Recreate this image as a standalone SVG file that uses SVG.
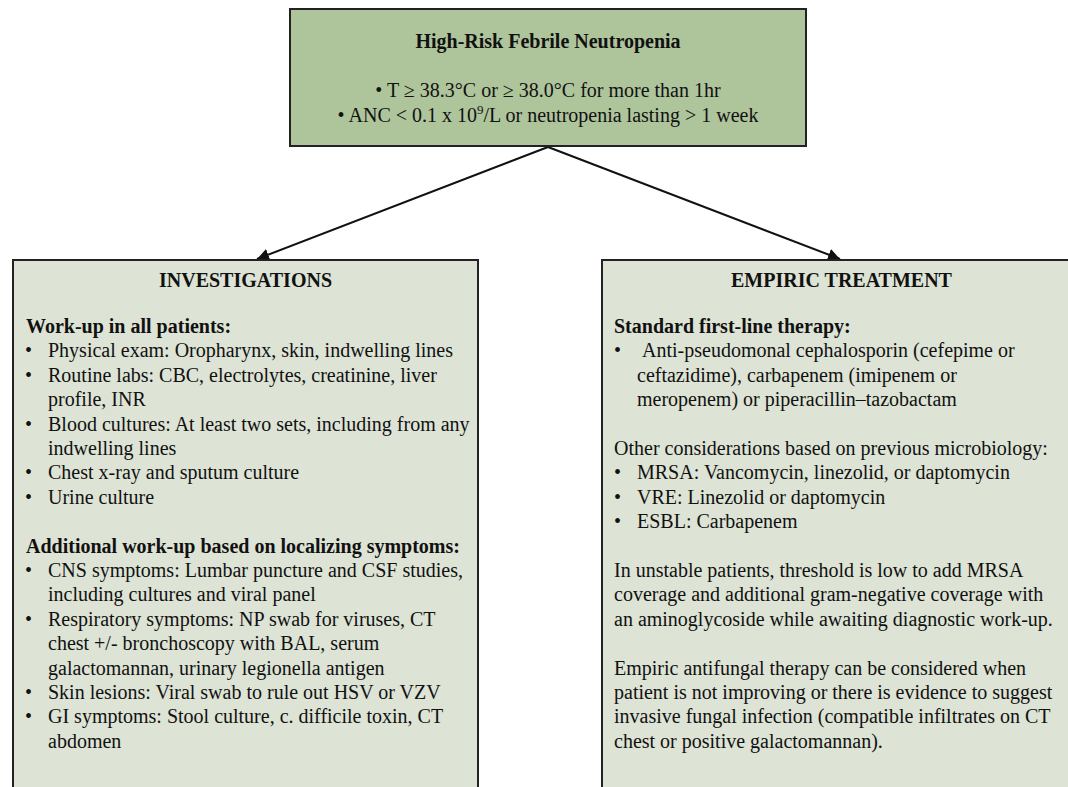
<svg xmlns="http://www.w3.org/2000/svg" width="1068" height="787" viewBox="0 0 1068 787">
<defs>
<style>
text{font-family:"Liberation Serif","Times New Roman",serif;font-size:20px;fill:#111;}
.b{font-weight:bold;}
.c{text-anchor:middle;}
.top{fill:#aec49b;stroke:#222;stroke-width:2;}
.box{fill:#dde3d5;stroke:#222;stroke-width:2;}
.conn{stroke:#111;stroke-width:2;fill:none;}
</style>
<marker id="ah" viewBox="0 0 10 10" refX="10" refY="5" markerWidth="6" markerHeight="6" markerUnits="strokeWidth" orient="auto">
<path d="M0,0 L10,5 L0,10 z" fill="#111"/>
</marker>
</defs>
<rect width="1068" height="787" fill="#fff"/>
<g id="connectors">
<line class="conn" x1="548" y1="147" x2="257" y2="259" marker-end="url(#ah)"/>
<line class="conn" x1="548" y1="147" x2="840" y2="259" marker-end="url(#ah)"/>
</g>
<g id="node-top">
<rect class="top" x="290" y="9" width="516" height="137"/>
<text class="b c" x="548" y="48">High-Risk Febrile Neutropenia</text>
<text class="c" x="548" y="97">• T ≥ 38.3°C or ≥ 38.0°C for more than 1hr</text>
<text class="c" x="548" y="122">• ANC &lt; 0.1 x 10<tspan font-size="13" dy="-8">9</tspan><tspan dy="8">/L or neutropenia lasting &gt; 1 week</tspan></text>
</g>
<g id="node-investigations">
<rect class="box" x="13" y="260" width="465" height="540"/>
<text class="b c" x="245.5" y="287">INVESTIGATIONS</text>
<text class="b" x="26" y="333">Work-up in all patients:</text>
<text x="25" y="357.4">•</text><text x="48" y="357.4">Physical exam: Oropharynx, skin, indwelling lines</text>
<text x="25" y="381.8">•</text><text x="48" y="381.8">Routine labs: CBC, electrolytes, creatinine, liver</text>
<text x="48" y="406.2">profile, INR</text>
<text x="25" y="430.6">•</text><text x="48" y="430.6">Blood cultures: At least two sets, including from any</text>
<text x="48" y="455">indwelling lines</text>
<text x="25" y="479.4">•</text><text x="48" y="479.4">Chest x-ray and sputum culture</text>
<text x="25" y="503.8">•</text><text x="48" y="503.8">Urine culture</text>
<text class="b" x="26" y="552.6">Additional work-up based on localizing symptoms:</text>
<text x="25" y="577">•</text><text x="48" y="577">CNS symptoms: Lumbar puncture and CSF studies,</text>
<text x="48" y="601.4">including cultures and viral panel</text>
<text x="25" y="625.8">•</text><text x="48" y="625.8">Respiratory symptoms: NP swab for viruses, CT</text>
<text x="48" y="650.2">chest +/- bronchoscopy with BAL, serum</text>
<text x="48" y="674.6">galactomannan, urinary legionella antigen</text>
<text x="25" y="699">•</text><text x="48" y="699">Skin lesions: Viral swab to rule out HSV or VZV</text>
<text x="25" y="723.4">•</text><text x="48" y="723.4">GI symptoms: Stool culture, c. difficile toxin, CT</text>
<text x="48" y="747.8">abdomen</text>
</g>
<g id="node-treatment">
<rect class="box" x="602" y="260" width="480" height="540"/>
<text class="b c" x="841.5" y="287">EMPIRIC TREATMENT</text>
<text class="b" x="614" y="333">Standard first-line therapy:</text>
<text x="614" y="357.4">•</text><text x="642" y="357.4">Anti-pseudomonal cephalosporin (cefepime or</text>
<text x="637" y="381.8">ceftazidime), carbapenem (imipenem or</text>
<text x="637" y="406.2">meropenem) or piperacillin–tazobactam</text>
<text x="614" y="455">Other considerations based on previous microbiology:</text>
<text x="614" y="479.4">•</text><text x="637" y="479.4">MRSA: Vancomycin, linezolid, or daptomycin</text>
<text x="614" y="503.8">•</text><text x="637" y="503.8">VRE: Linezolid or daptomycin</text>
<text x="614" y="528.2">•</text><text x="637" y="528.2">ESBL: Carbapenem</text>
<text x="614" y="577">In unstable patients, threshold is low to add MRSA</text>
<text x="614" y="601.4">coverage and additional gram-negative coverage with</text>
<text x="614" y="625.8">an aminoglycoside while awaiting diagnostic work-up.</text>
<text x="614" y="674.6">Empiric antifungal therapy can be considered when</text>
<text x="614" y="699">patient is not improving or there is evidence to suggest</text>
<text x="614" y="723.4">invasive fungal infection (compatible infiltrates on CT</text>
<text x="614" y="747.8">chest or positive galactomannan).</text>
</g>
</svg>
